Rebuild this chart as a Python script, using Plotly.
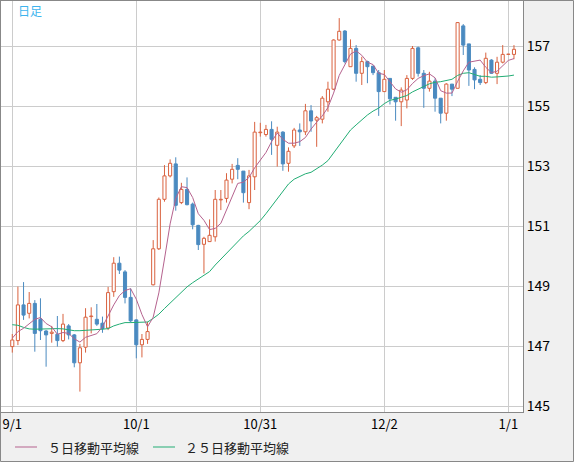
import plotly.graph_objects as go

# 日足データ (9/1 ～ 1/2, 営業日ごと)
opens = [146.98, 147.18, 148.37, 148.09, 148.42, 147.89, 147.5, 147.42, 147.39, 147.18,
         147.67, 147.37, 146.44, 146.96, 147.98, 147.89, 147.76, 147.6, 148.81, 149.76,
         149.47, 148.62, 147.87, 147.04, 147.22, 149.04, 150.24, 151.89, 152.67, 153.07,
         151.78, 152.22, 151.73, 151.02, 150.39, 150.48, 150.64, 151.87, 151.92, 152.56,
         153.02, 152.83, 151.78, 152.64, 154.11, 154.05, 154.22, 153.69, 154.13, 153.09,
         153.67, 154.2, 154.14, 154.84, 154.53, 154.56, 155.14, 155.56, 157.2, 157.5,
         156.31, 156.92, 156.09, 156.48, 156.33, 156.11, 155.48, 155.92, 155.29, 155.14,
         155.2, 155.92, 156.94, 156.09, 155.59, 155.83, 155.26, 154.76, 155.73, 155.59,
         157.67, 157.07, 156.22, 155.89, 155.78, 156.53, 156.09, 156.46, 156.72, 156.72]
highs = [147.4, 148.98, 149.13, 148.8, 148.53, 148.59, 147.53, 147.67, 148.0, 148.07,
         147.73, 147.4, 147.07, 148.26, 148.29, 148.4, 147.98, 148.97, 149.96, 149.98,
         149.53, 148.92, 147.89, 147.4, 147.81, 150.53, 151.95, 153.03, 153.22, 153.29,
         152.44, 152.62, 151.78, 151.04, 150.64, 151.22, 152.2, 152.2, 152.76, 153.07,
         153.26, 152.83, 152.87, 154.47, 154.44, 154.37, 154.49, 154.31, 154.16, 153.62,
         154.27, 154.42, 155.07, 155.03, 154.67, 155.33, 155.81, 157.22, 157.93, 157.53,
         157.22, 157.03, 156.64, 156.51, 156.33, 156.2, 156.2, 155.92, 155.29, 155.62,
         156.03, 157.0, 156.98, 156.2, 156.14, 155.92, 155.26, 155.76, 155.73, 157.8,
         157.73, 157.07, 156.29, 156.03, 156.78, 156.56, 156.64, 157.03, 156.73, 157.03]
lows = [146.78, 147.03, 147.87, 147.92, 146.81, 147.2, 146.31, 147.11, 146.98, 147.13,
        147.22, 146.29, 145.48, 146.78, 147.42, 147.67, 147.44, 147.53, 148.64, 149.4,
        148.42, 147.78, 146.59, 146.62, 147.07, 149.02, 150.2, 151.81, 152.62, 151.51,
        151.73, 151.69, 150.89, 150.2, 149.42, 150.47, 150.48, 151.53, 151.78, 152.42,
        152.56, 151.78, 151.56, 152.2, 153.98, 153.98, 153.37, 152.98, 152.84, 152.81,
        153.6, 153.67, 154.03, 154.14, 153.64, 154.42, 154.81, 155.53, 157.18, 156.42,
        156.31, 155.81, 155.7, 155.76, 156.03, 154.67, 155.48, 155.05, 154.51, 154.33,
        154.92, 155.87, 155.98, 154.94, 155.48, 154.81, 154.42, 154.51, 155.33, 155.59,
        156.7, 155.67, 155.56, 155.7, 155.73, 156.07, 155.73, 156.42, 156.72, 156.56]
closes = [147.2, 148.37, 148.03, 148.42, 147.42, 147.51, 147.37, 147.46, 147.18, 147.73,
          147.37, 146.44, 146.94, 147.96, 148.0, 147.73, 147.58, 148.78, 149.76, 149.53,
          148.62, 147.84, 147.04, 147.22, 147.48, 150.24, 151.89, 152.67, 153.09, 151.69,
          152.22, 151.71, 151.04, 150.38, 150.59, 150.69, 151.89, 151.89, 152.53, 152.89,
          152.89, 152.11, 152.67, 154.13, 154.13, 154.22, 153.89, 154.13, 153.07, 153.49,
          154.2, 154.14, 154.84, 154.5, 154.61, 155.26, 155.56, 157.2, 157.49, 156.48,
          156.92, 156.09, 156.48, 156.31, 156.11, 155.48, 155.89, 155.24, 155.14, 155.53,
          155.92, 156.92, 156.09, 155.59, 155.83, 155.26, 154.76, 155.73, 155.56, 157.78,
          157.03, 156.2, 155.87, 155.78, 156.59, 156.09, 156.46, 156.72, 156.73, 156.89]

# 移動平均線
ma5 = [147.26, 147.48, 147.59, 147.73, 147.89, 147.95, 147.75, 147.64, 147.39, 147.45,
       147.42, 147.24, 147.13, 147.29, 147.34, 147.41, 147.64, 148.01, 148.37, 148.68,
       148.85, 148.91, 148.56, 148.05, 147.64, 147.96, 148.77, 149.9, 151.07, 151.92,
       152.31, 152.28, 151.95, 151.41, 151.19, 150.88, 150.92, 151.09, 151.52, 151.98,
       152.42, 152.46, 152.62, 152.94, 153.19, 153.45, 153.81, 154.1, 153.89, 153.76,
       153.76, 153.81, 153.95, 154.23, 154.46, 154.67, 154.95, 155.43, 156.02, 156.4,
       156.73, 156.84, 156.69, 156.46, 156.38, 156.09, 156.05, 155.81, 155.57, 155.46,
       155.54, 155.75, 155.92, 156.01, 156.07, 155.94, 155.51, 155.43, 155.43, 155.82,
       156.17, 156.46, 156.49, 156.53, 156.29, 156.11, 156.16, 156.33, 156.52, 156.58]
ma25 = [147.71, 147.69, 147.62, 147.57, 147.56, 147.57, 147.58, 147.58, 147.58, 147.57,
        147.53, 147.51, 147.51, 147.52, 147.53, 147.53, 147.56, 147.58, 147.67, 147.73,
        147.78, 147.78, 147.78, 147.78, 147.8, 147.92, 148.06, 148.25, 148.43, 148.6,
        148.79, 148.97, 149.11, 149.24, 149.35, 149.48, 149.7, 149.9, 150.08, 150.28,
        150.49, 150.67, 150.82, 151.0, 151.18, 151.41, 151.65, 151.93, 152.16, 152.4,
        152.56, 152.65, 152.74, 152.79, 152.91, 153.03, 153.18, 153.43, 153.71, 153.95,
        154.2, 154.37, 154.55, 154.7, 154.83, 154.93, 155.08, 155.19, 155.23, 155.28,
        155.35, 155.47, 155.55, 155.65, 155.74, 155.79, 155.81, 155.85, 155.89, 156.02,
        156.09, 156.11, 156.06, 155.99, 155.99, 155.96, 155.97, 155.98, 156.0, 156.03]

tick_pos = [0, 22, 44, 66, 88]
tick_text = ["9/1", "10/1", "10/31", "12/2", "1/1"]
y_ticks = [145, 147, 149, 151, 153, 155, 157]

W, H = 574, 462
L, R, T, B = 1, 51, 1, 50
PW, PH = W - L - R, H - T - B

UP = "#d9623f"
DOWN = "#4a8ac0"
C5 = "#b5628e"
C25 = "#22ad74"
FONT = "Noto Sans CJK JP"


def px_x(px):
    return (px - L) / PW


def px_y(py):
    return (H - B - py) / PH


def wick_trace(ids, color):
    # 実体の上下にヒゲを描く
    xs, ys = [], []
    for i in ids:
        top = max(opens[i], closes[i])
        bot = min(opens[i], closes[i])
        xs += [i, i, None, i, i, None]
        ys += [highs[i], top, None, bot, lows[i], None]
    return go.Scatter(x=xs, y=ys, mode="lines", line=dict(color=color, width=1),
                      hoverinfo="skip", showlegend=False)


idx = list(range(len(closes)))
up_ids = [i for i in idx if closes[i] >= opens[i]]
down_ids = [i for i in idx if closes[i] < opens[i]]

fig = go.Figure()

fig.add_trace(wick_trace(up_ids, UP))
fig.add_trace(wick_trace(down_ids, DOWN))

# ローソク足の実体
fig.add_trace(go.Bar(
    x=idx,
    base=[min(opens[i], closes[i]) for i in idx],
    y=[abs(closes[i] - opens[i]) for i in idx],
    width=0.55,
    marker=dict(
        color=["white" if i in up_ids else DOWN for i in idx],
        line=dict(color=[UP if i in up_ids else DOWN for i in idx], width=1),
    ),
    showlegend=False,
))

fig.add_trace(go.Scatter(x=idx, y=ma25, mode="lines",
                         line=dict(color=C25, width=1), showlegend=False))
fig.add_trace(go.Scatter(x=idx, y=ma5, mode="lines",
                         line=dict(color=C5, width=1), showlegend=False))

# 凡例 (手描き)
legend_items = [(15, 37, 46, C5, "５日移動平均線"),
                (153, 175, 183, C25, "２５日移動平均線")]
shapes = []
annotations = []
for x0, x1, tx, col, label in legend_items:
    shapes.append(dict(type="line", xref="paper", yref="paper",
                       x0=px_x(x0), x1=px_x(x1), y0=px_y(447), y1=px_y(447),
                       line=dict(color=col, width=1)))
    annotations.append(dict(xref="paper", yref="paper", x=px_x(tx), y=px_y(447),
                            text=label, showarrow=False, xanchor="left",
                            yanchor="middle",
                            font=dict(family=FONT, size=13, color="#222")))

annotations.append(dict(xref="paper", yref="paper", x=px_x(16), y=px_y(11),
                        text="日足", showarrow=False, xanchor="left",
                        yanchor="middle",
                        font=dict(family=FONT, size=12, color="#3db4ee")))

# 外枠
shapes.append(dict(type="rect", xref="paper", yref="paper",
                   x0=px_x(0.5), x1=px_x(W - 0.5), y0=px_y(H - 0.5), y1=px_y(0.5),
                   line=dict(color="#888888", width=1)))

fig.update_layout(
    width=W, height=H,
    margin=dict(l=L, r=R, t=T, b=B, autoexpand=False),
    paper_bgcolor="#f0f0f0",
    plot_bgcolor="white",
    font=dict(family=FONT, size=13, color="black"),
    shapes=shapes,
    annotations=annotations,
    hovermode=False,
    xaxis=dict(
        range=[-2.0, 90.6],
        tickvals=tick_pos, ticktext=tick_text,
        showgrid=True, gridcolor="#cccccc", gridwidth=1,
        showline=True, linecolor="#888888", linewidth=1, mirror=True,
        ticks="", zeroline=False, automargin=False,
        tickfont=dict(family=FONT, size=13, color="black"),
    ),
    yaxis=dict(
        range=[144.8, 158.5],
        side="right",
        tickvals=y_ticks,
        showgrid=True, gridcolor="#cccccc", gridwidth=1,
        showline=True, linecolor="#888888", linewidth=1, mirror=True,
        ticks="", zeroline=False, automargin=False,
        tickfont=dict(family=FONT, size=14, color="black"),
    ),
)

# ページ余白をなくす
fig.write_html("out.html", config={"displayModeBar": False},
               post_script="document.body.style.margin='0';")
